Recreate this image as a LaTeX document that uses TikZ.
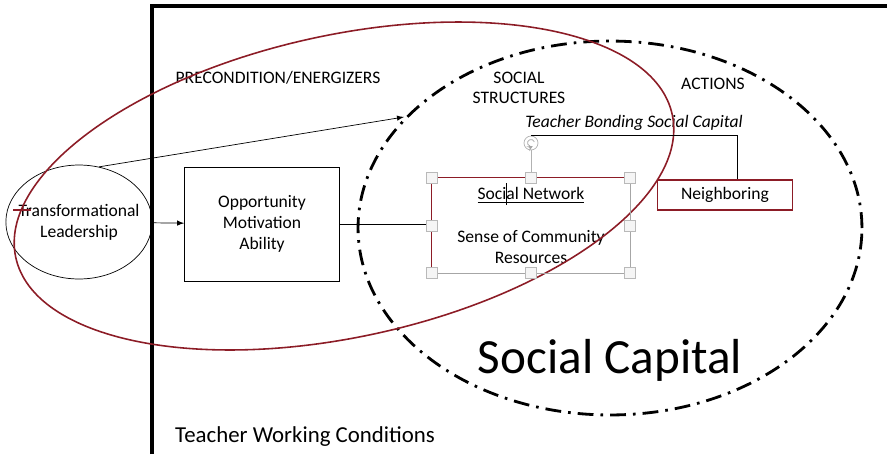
\documentclass[tikz,border=0pt]{standalone}
\usepackage{fontspec}
\setmainfont{Carlito}
\usetikzlibrary{shapes,arrows,positioning}
\definecolor{maroonline}{RGB}{140,28,38}

\begin{document}
\begin{tikzpicture}[x=0.02cm, y=-0.02cm, font=\fontsize{10}{12}\selectfont, >=latex,
        leadnode/.style={ellipse, draw, thin, minimum width=2.68cm, minimum height=2.28cm, align=center, inner xsep=-5pt, inner ysep=0pt},
        block/.style={rectangle, draw, thin, minimum width=3.1cm, minimum height=2.28cm, align=center},
        nbox/.style={rectangle, draw=maroonline, thick, minimum width=2.7cm, minimum height=0.6cm},
        handle/.style={rectangle, draw=gray!55, fill=gray!8, minimum size=0.22cm, inner sep=0pt},
        capline/.style={line width=1.6pt, dash pattern=on 9pt off 4pt on 1.5pt off 4pt},
        redloop/.style={draw=maroonline, line width=0.9pt}]

        \useasboundingbox (0,0) rectangle (887,454);

        % working conditions frame
        \draw[line width=1.8pt] (152,454) -- (152,6) -- (887,6);

        \node[leadnode] (lead) at (79,222) {Transformational\\Leadership};
        \node[block] (oma) at (262,224) {Opportunity\\Motivation\\Ability};
        \node[minimum width=3.96cm, minimum height=1.9cm] (sn) at (531,225.5) {};
        \node (sntitle) at (531,195) {\underline{Social Network}};
        \node[align=center] (sense) at (531,247) {Sense of Community\\Resources};
        \node[nbox] (nb) at (725,195) {Neighboring};

        \node (pre) at (278,78) {PRECONDITION/ENERGIZERS};
        \node[align=center, font=\fontsize{10}{11}\selectfont] (struct) at (519,88) {SOCIAL\\STRUCTURES};
        \node (act) at (713,84) {ACTIONS};
        \node[font=\fontsize{10}{12}\selectfont\itshape] (bond) at (634,123) {Teacher Bonding Social Capital};
        \node[font=\fontsize{28}{30}\selectfont] (cap) at (610,360) {Social Capital};
        \node[font=\fontsize{13}{15}\selectfont] (twc) at (305,437) {Teacher Working Conditions};

        \coordinate (ss) at (404,117);
        \coordinate (bondR) at (737,135);

        % social capital and red loop
        \draw[capline] (610,228) ellipse [x radius=5.04cm, y radius=3.74cm];
        \draw[redloop, rotate around={12.3:(344,186)}] (344,186) ellipse [x radius=6.72cm, y radius=3.02cm];
        \draw[redloop] (13,210) -- (31,210);

        % selected text box
        \draw[maroonline, thick] (sn.south west) -- (sn.north west) -- (sn.north east);
        \draw[gray!70] (sn.north east) -- (sn.south east) -- (sn.south west);
        \draw (506,183) -- (506,205);

        \draw[->, thin] (lead) -- (oma);
        \draw[->, thin] (lead.70) -- (ss);
        \draw[thin] (oma.east) -- (oma.east -| sn.west);
        \node[circle, draw=gray!60, fill=white, minimum size=0.28cm, inner sep=0pt] (rot) at (531,143) {};
        \draw[gray!60] (rot.south) -- (sn.north);
        \draw[gray!70, ->, >=stealth] ([shift={(20:0.07cm)}]rot.center) arc[start angle=20, end angle=300, radius=0.07cm];
        \draw[thin] (rot.north) -- (rot.north -| bondR) -- (bondR |- nb.north);
        \foreach \a in {north west, north, north east, west, east, south west, south, south east}
            \node[handle] at (sn.\a) {};
    \end{tikzpicture}
\end{document}
